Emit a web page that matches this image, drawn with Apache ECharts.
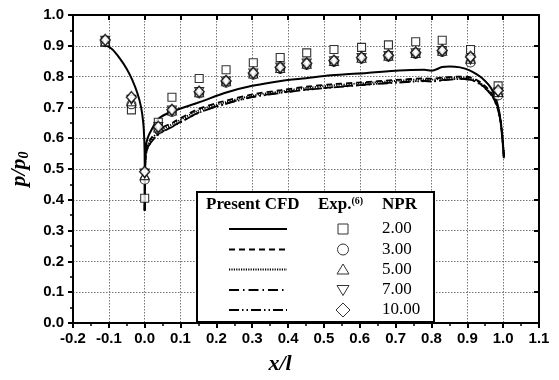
<!DOCTYPE html>
<html>
<head>
<meta charset="utf-8">
<script src="https://cdn.jsdelivr.net/npm/echarts@6/dist/echarts.min.js"></script>
<style>
  html, body { margin: 0; padding: 0; background: #fff; }
  #chart { width: 559px; height: 380px; }
</style>
</head>
<body>
<div id="chart"></div>
<script>
// experimental stations (x/l) shared by all NPR runs
const expX = [-0.11, -0.037, 0.0, 0.038, 0.076, 0.152, 0.227, 0.303, 0.378, 0.452, 0.528, 0.605, 0.68, 0.756, 0.83, 0.909, 0.986];
const expNpr2 = [0.912, 0.692, 0.405, 0.652, 0.733, 0.794, 0.822, 0.845, 0.862, 0.877, 0.888, 0.895, 0.903, 0.913, 0.918, 0.888, 0.77];
const expNpr3 = [0.912, 0.71, 0.465, 0.63, 0.685, 0.745, 0.78, 0.806, 0.825, 0.838, 0.848, 0.858, 0.865, 0.874, 0.88, 0.846, 0.739];
const expNpr5 = [0.915, 0.72, 0.48, 0.635, 0.69, 0.749, 0.785, 0.81, 0.828, 0.842, 0.851, 0.861, 0.868, 0.877, 0.884, 0.858, 0.75];
const expNpr7 = [0.916, 0.725, 0.485, 0.636, 0.69, 0.75, 0.784, 0.81, 0.829, 0.842, 0.85, 0.86, 0.867, 0.876, 0.883, 0.855, 0.748];
const expNpr10 = [0.919, 0.733, 0.491, 0.637, 0.692, 0.751, 0.786, 0.812, 0.83, 0.843, 0.852, 0.862, 0.869, 0.878, 0.885, 0.864, 0.755];

// CFD, NPR 2 (includes the forebody part ahead of x/l = 0)
const cfdX2 = [-0.11, -0.09, -0.07, -0.05, -0.035, -0.02, -0.01, -0.004, -0.001, 0, 0, 0.001, 0.003, 0.008, 0.018, 0.04, 0.08, 0.15, 0.23, 0.30, 0.38, 0.45, 0.52, 0.62, 0.71, 0.78, 0.80, 0.83, 0.85, 0.88, 0.905, 0.94, 0.97, 0.988, 0.997, 1.002];
const cfdNpr2 = [0.903, 0.888, 0.86, 0.825, 0.79, 0.745, 0.70, 0.65, 0.59, 0.52, 0.365, 0.52, 0.57, 0.60, 0.625, 0.665, 0.688, 0.716, 0.749, 0.77, 0.786, 0.795, 0.804, 0.812, 0.82, 0.822, 0.819, 0.831, 0.833, 0.83, 0.821, 0.796, 0.755, 0.692, 0.608, 0.535];

// CFD, higher NPR
const cfdX = [0, 0.001, 0.003, 0.008, 0.018, 0.04, 0.08, 0.15, 0.22, 0.30, 0.38, 0.45, 0.52, 0.60, 0.70, 0.78, 0.80, 0.84, 0.88, 0.91, 0.935, 0.955, 0.972, 0.985, 0.994, 1.0, 1.002];
const cfdNpr3 = [0.365, 0.50, 0.55, 0.58, 0.60, 0.628, 0.652, 0.695, 0.72, 0.742, 0.756, 0.767, 0.775, 0.781, 0.789, 0.794, 0.793, 0.798, 0.80, 0.797, 0.783, 0.763, 0.738, 0.70, 0.65, 0.58, 0.54];
const cfdNpr5 = [0.365, 0.495, 0.545, 0.575, 0.595, 0.622, 0.647, 0.69, 0.715, 0.738, 0.752, 0.763, 0.771, 0.778, 0.786, 0.791, 0.79, 0.795, 0.797, 0.794, 0.78, 0.76, 0.735, 0.698, 0.648, 0.578, 0.54];
const cfdNpr7 = [0.365, 0.49, 0.54, 0.568, 0.588, 0.615, 0.64, 0.683, 0.71, 0.734, 0.748, 0.758, 0.765, 0.773, 0.781, 0.786, 0.785, 0.79, 0.793, 0.79, 0.777, 0.757, 0.732, 0.695, 0.645, 0.575, 0.54];
const cfdNpr10 = [0.365, 0.49, 0.54, 0.567, 0.587, 0.614, 0.639, 0.682, 0.709, 0.733, 0.747, 0.757, 0.764, 0.772, 0.78, 0.785, 0.784, 0.789, 0.792, 0.789, 0.776, 0.756, 0.731, 0.694, 0.644, 0.574, 0.54];

const nprLabels = ["2.00", "3.00", "5.00", "7.00", "10.00"];

const zip = (xs, ys) => xs.map((x, i) => [x, ys[i]]);

const chart = echarts.init(document.getElementById("chart"), null, { renderer: "canvas" });

const serif = "'Liberation Serif', 'Times New Roman', serif";
const sans = "'Liberation Sans', Arial, sans-serif";

function cfdLine(name, xs, ys, dash, width) {
  return {
    name: name,
    type: "line",
    data: zip(xs, ys),
    smooth: 0.3,
    symbol: "none",
    z: 2,
    lineStyle: { color: "#000", width: width, type: dash },
  };
}

function expScatter(name, ys, symbol, size, rotate, bw) {
  return {
    name: name,
    type: "scatter",
    data: zip(expX, ys),
    symbol: symbol,
    symbolSize: size,
    symbolRotate: rotate,
    z: 3,
    itemStyle: { color: "#fff", borderColor: "#000", borderWidth: bw },
  };
}

const axisBase = {
  type: "value",
  axisLine: { show: true, onZero: false, lineStyle: { color: "#000", width: 2 } },
};

// legend box (table layout drawn as graphic)
const lgX = 197, lgY = 192, lgW = 237, lgH = 130;
const rowY = [229, 249.5, 269.5, 290, 310];
const dashes = [null, [6, 4], [1.2, 1.2], [10, 4, 1.5, 4], [10, 3, 1.5, 3, 1.5, 3]];
const legendGraphics = [
  { type: "rect", shape: { x: lgX, y: lgY, width: lgW, height: lgH }, style: { fill: "#fff", stroke: "#000", lineWidth: 2 }, z: 100 },
  { type: "text", x: 206, y: 205, style: { text: "Present CFD", font: "bold 17px " + serif, fill: "#000", verticalAlign: "middle" }, z: 101 },
  { type: "text", x: 318, y: 205, style: {
      text: "{b|Exp.}{s|(6)}",
      verticalAlign: "middle",
      rich: {
        b: { font: "bold 17px " + serif, fill: "#000" },
        s: { font: "bold 10px " + serif, fill: "#000", padding: [0, 0, 8, 0] },
      },
    }, z: 101 },
  { type: "text", x: 382, y: 205, style: { text: "NPR", font: "bold 17px " + serif, fill: "#000", verticalAlign: "middle" }, z: 101 },
];
rowY.forEach((y, i) => {
  const st = { stroke: "#000", lineWidth: i === 0 ? 2.2 : 1.8 };
  if (dashes[i]) st.lineDash = dashes[i];
  legendGraphics.push({ type: "line", shape: { x1: 229, y1: y, x2: 287, y2: y }, style: st, z: 101 });
  legendGraphics.push({ type: "text", x: 382, y: y, style: { text: nprLabels[i], font: "17px " + serif, fill: "#000", verticalAlign: "middle" }, z: 101 });
});
const mx = 343, mStyle = { fill: "#fff", stroke: "#333", lineWidth: 1 };
legendGraphics.push(
  { type: "rect", shape: { x: mx - 5, y: rowY[0] - 5, width: 10, height: 10 }, style: mStyle, z: 101 },
  { type: "circle", shape: { cx: mx, cy: rowY[1], r: 5.5 }, style: mStyle, z: 101 },
  { type: "polygon", shape: { points: [[mx, rowY[2] - 5.5], [mx + 6, rowY[2] + 4.5], [mx - 6, rowY[2] + 4.5]] }, style: mStyle, z: 101 },
  { type: "polygon", shape: { points: [[mx - 6, rowY[3] - 4.5], [mx + 6, rowY[3] - 4.5], [mx, rowY[3] + 5.5]] }, style: mStyle, z: 101 },
  { type: "polygon", shape: { points: [[mx, rowY[4] - 7], [mx + 7, rowY[4]], [mx, rowY[4] + 7], [mx - 7, rowY[4]]] }, style: mStyle, z: 101 }
);

const option = {
  backgroundColor: "#fff",
  animation: false,
  grid: { left: 73, right: 20, top: 15, bottom: 46 },
  xAxis: [
    {
      ...axisBase,
      position: "bottom",
      min: -0.2,
      max: 1.1,
      interval: 0.1,
      name: "x/l",
      nameLocation: "middle",
      nameGap: 30,
      nameTextStyle: { fontFamily: serif, fontStyle: "italic", fontWeight: "bold", fontSize: 22, color: "#000", padding: [0, 52, 0, 0] },
      axisTick: { show: true, inside: false, length: 5, lineStyle: { color: "#000", width: 2 } },
      minorTick: { show: true, splitNumber: 2, length: 3, lineStyle: { color: "#000", width: 1.5 } },
      axisLabel: { color: "#000", fontFamily: sans, fontWeight: "bold", fontSize: 15, margin: 8, formatter: (v) => v.toFixed(1) },
      splitLine: { show: true, lineStyle: { color: "#777", width: 1, type: [1.5, 1.5] } },
    },
    {
      ...axisBase,
      position: "top",
      min: -0.2,
      max: 1.1,
      interval: 0.1,
      axisTick: { show: true, inside: true, length: 5, lineStyle: { color: "#000", width: 2 } },
      axisLabel: { show: false },
      splitLine: { show: false },
    },
  ],
  yAxis: [
    {
      ...axisBase,
      position: "left",
      min: 0,
      max: 1,
      interval: 0.1,
      name: "{p|p/p}{s|0}",
      nameLocation: "middle",
      nameGap: 42,
      nameRotate: 90,
      nameTextStyle: {
        rich: {
          p: { fontFamily: serif, fontStyle: "italic", fontWeight: "bold", fontSize: 22, color: "#000" },
          s: { fontFamily: serif, fontStyle: "italic", fontWeight: "bold", fontSize: 14, color: "#000", padding: [10, 0, 0, 0] },
        },
      },
      axisTick: { show: true, inside: false, length: 5, lineStyle: { color: "#000", width: 2 } },
      minorTick: { show: true, splitNumber: 2, length: 3, lineStyle: { color: "#000", width: 1.5 } },
      axisLabel: { color: "#000", fontFamily: sans, fontWeight: "bold", fontSize: 15, margin: 9, formatter: (v) => v.toFixed(1) },
      splitLine: { show: true, lineStyle: { color: "#777", width: 1, type: [1.5, 1.5] } },
    },
    {
      ...axisBase,
      position: "right",
      min: 0,
      max: 1,
      interval: 0.1,
      axisTick: { show: true, inside: true, length: 5, lineStyle: { color: "#000", width: 2 } },
      axisLabel: { show: false },
      splitLine: { show: false },
    },
  ],
  series: [
    cfdLine("CFD NPR 2", cfdX2, cfdNpr2, "solid", 2),
    cfdLine("CFD NPR 3", cfdX, cfdNpr3, [6, 4], 1.8),
    cfdLine("CFD NPR 5", cfdX, cfdNpr5, [1.2, 1.2], 1.8),
    cfdLine("CFD NPR 7", cfdX, cfdNpr7, [10, 4, 1.5, 4], 1.8),
    cfdLine("CFD NPR 10", cfdX, cfdNpr10, [10, 3, 1.5, 3, 1.5, 3], 1.8),
    expScatter("Exp NPR 2", expNpr2, "rect", 8, 0, 1.1),
    expScatter("Exp NPR 3", expNpr3, "circle", 9, 0, 1.1),
    expScatter("Exp NPR 5", expNpr5, "triangle", 9, 0, 1.1),
    expScatter("Exp NPR 7", expNpr7, "triangle", 9, 180, 1.1),
    expScatter("Exp NPR 10", expNpr10, "diamond", [10, 11], 0, 1.5),
  ],
  graphic: legendGraphics,
};

chart.setOption(option);
window.addEventListener("resize", () => chart.resize());
</script>
</body>
</html>
